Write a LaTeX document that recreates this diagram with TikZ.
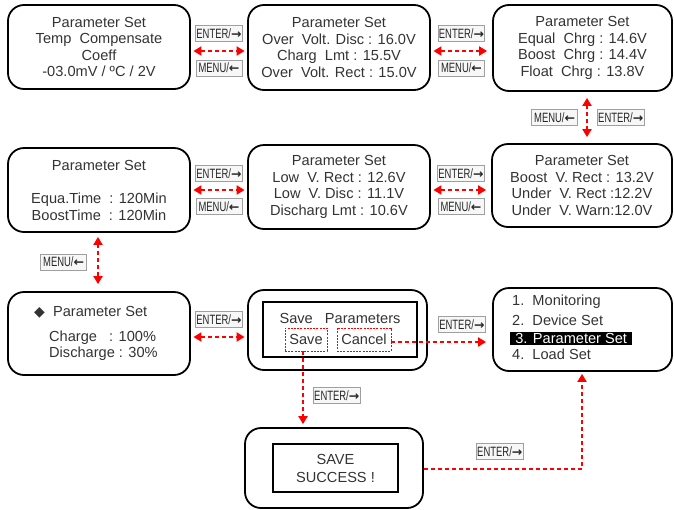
\documentclass[tikz,border=0pt]{standalone}
\usepackage{fontspec}
\setmainfont{Liberation Sans}
\newfontfamily\keyfont[FakeStretch=0.7]{Liberation Sans}
\newfontfamily\symfont{DejaVu Sans}
\usetikzlibrary{arrows.meta,positioning,calc}
\definecolor{scrtxt}{HTML}{333333}
\tikzset{
  scr/.style={draw,rounded corners=16pt,line width=1.8pt,align=center,text=scrtxt,font=\fontsize{14.6}{16.5}\selectfont},
  inr/.style={draw,line width=1.8pt,align=center,text=scrtxt,font=\fontsize{14.6}{18}\selectfont},
  txt/.style={align=left,inner sep=0pt,text=scrtxt,font=\fontsize{14.6}{16.5}\selectfont},
  btn/.style={draw=red,dash pattern=on 2pt off 1.2pt,line width=0.9pt,minimum height=23pt,inner sep=1pt,text=scrtxt,font=\fontsize{14.6}{16}\selectfont},
  key/.style={solid,draw=gray!75,fill=gray!6,line width=0.8pt,minimum height=16pt,minimum width=46pt,inner sep=0.8pt,text=black!85,font=\keyfont\fontsize{13.5}{13.5}\selectfont},
  arr/.style={red,line width=2pt,dash pattern=on 4pt off 3pt,-{Triangle[length=8pt,width=9pt]}},
  arr2/.style={arr,{Triangle[length=8pt,width=9pt]}-{Triangle[length=8pt,width=9pt]}},
}
\newcommand{\kenter}{ENTER/{\symfont\bfseries\fontsize{12.5}{10}\selectfont →}}
\newcommand{\kmenu}{MENU/{\symfont\bfseries\fontsize{12.5}{10}\selectfont ←}}

\begin{document}
\begin{tikzpicture}[x=1pt,y=-1pt]
 \useasboundingbox (0,0) rectangle (674,509);
 % row 1
 \node[scr,minimum width=182pt,minimum height=84pt] (tc) at (99,47){Parameter Set\\Temp\ \ Compensate\\Coeff\\-03.0mV / ºC / 2V};
 \node[scr,minimum width=182pt,minimum height=85pt] (ov) at (339,47.5){Parameter Set\\Over\ \ Volt. Disc : 16.0V\\Charg\ \ Lmt : 15.5V\\Over\ \ Volt. Rect : 15.0V};
 \node[scr,minimum width=179pt,minimum height=86pt] (ch) at (582.5,48){Parameter Set\\Equal\ \ Chrg : 14.6V\\Boost\ \ Chrg : 14.4V\\Float\ \ Chrg : 13.8V};
 % row 2
 \node[scr,minimum width=182pt,minimum height=84pt] (eq) at (99,190){Parameter Set\\[17pt]Equa.Time\ \ : 120Min\\BoostTime\ \ : 120Min};
 \node[scr,minimum width=182pt,minimum height=84pt] (lw) at (339,187){Parameter Set\\Low\ \ V. Rect : 12.6V\\Low\ \ V. Disc : 11.1V\\Discharg Lmt : 10.6V};
 \node[scr,minimum width=180pt,minimum height=83pt] (bv) at (582,185.5){Parameter Set\\Boost\ \ V. Rect : 13.2V\\Under\ \ V. Rect :12.2V\\Under\ \ V. Warn:12.0V};
 % row 3
 \node[scr,minimum width=182pt,minimum height=83pt] (cd) at (99,333.5){};
 \node[txt,anchor=west] (cdt) at (34,312){{\symfont\fontsize{14}{14}\selectfont ◆}\ \ Parameter Set};
 \node[txt,anchor=west] (cdv) at (49,345.5){Charge\ \ \ : 100\%\\Discharge : 30\%};
 \node[scr,minimum width=179pt,minimum height=80pt] (sp) at (337.5,330){};
 \node[inr,minimum width=154pt,minimum height=55pt] (spi) at (340,329.5){};
 \node[txt] (spt) at (340,318){Save\ \ \ Parameters};
 \node[btn,minimum width=42pt] (sv) at (306,339.5){Save};
 \node[btn,minimum width=54pt] (cn) at (364,339.5){Cancel};
 \node[scr,minimum width=179pt,minimum height=83pt] (mn) at (582.5,329.5){};
 \node[txt,anchor=west] (m1) at (512,302){1.\ \ Monitoring};
 \node[txt,anchor=west] (m2) at (512,320){2.\ \ Device Set};
 \node[txt,anchor=west,fill=black,text=white,inner xsep=2pt,inner ysep=1pt,minimum width=122pt] (m3) at (510,338.5){3. Parameter Set};
 \node[txt,anchor=west] (m4) at (512,354){4.\ \ Load Set};
 % saved
 \node[scr,minimum width=178pt,minimum height=80pt] (ss) at (334,468){};
 \node[inr,minimum width=125pt,minimum height=48pt] (ssi) at (335.5,468){SAVE\\SUCCESS !};
 % connectors
 \draw[arr2,shorten <=2.5pt,shorten >=2.5pt] ([yshift=-4pt]tc.east) -- node[key,above=9pt] (k1){\kenter} node[key,below=8.5pt] (k2){\kmenu} ([yshift=-4pt]tc.east -| ov.west);
 \draw[arr2,shorten <=2.5pt,shorten >=5pt] ([yshift=-3.5pt]ov.east) -- node[key,above=9pt] (k3){\kenter} node[key,below=8.5pt] (k4){\kmenu} ([yshift=-3.5pt]ov.east -| ch.west);
 \draw[arr2,shorten <=6pt,shorten >=6pt] ([xshift=4.5pt]ch.south) -- node[key,left=9pt] (k5){\kmenu} node[key,right=10pt] (k6){\kenter} ([xshift=4.5pt]ch.south |- bv.north);
 \draw[arr2,shorten <=2.5pt,shorten >=2.5pt] (eq.east) -- node[key,above=8pt] (k7){\kenter} node[key,below=8pt] (k8){\kmenu} (eq.east -| lw.west);
 \draw[arr2,shorten <=2.5pt,shorten >=5pt] ([yshift=-3pt]lw.east) -- node[key,above=8pt] (k9){\kenter} node[key,below=8pt] (k10){\kmenu} ([yshift=-3pt]lw.east -| bv.west);
 \draw[arr2,shorten <=4pt,shorten >=7pt] ([xshift=-1pt]eq.south) -- node[key,left=11pt] (k11){\kmenu} ([xshift=-1pt]eq.south |- cd.north);
 \draw[arr2,shorten <=2.5pt,shorten >=2.5pt] ([yshift=-3.5pt]cd.east) -- node[key,above=9pt] (k12){\kenter} ([yshift=-3.5pt]cd.east -| sp.west);
 \draw[arr,shorten >=6pt] ([yshift=-2.5pt]cn.east) -- node[key,above=9pt,pos=0.7] (k13){\kenter} ([yshift=-2.5pt]cn.east -| mn.west);
 \draw[arr,shorten >=3pt] ([xshift=-3pt]sv.south) -- node[key,right=10pt,pos=0.58] (k14){\kenter} ([xshift=-3pt]sv.south |- ss.north);
 \draw[arr,shorten >=2pt] ([yshift=-1pt]ss.east) -| node[key,above=9pt,pos=0.24] (k15){\kenter} ([xshift=-0.5pt]mn.south);
\end{tikzpicture}
\end{document}
